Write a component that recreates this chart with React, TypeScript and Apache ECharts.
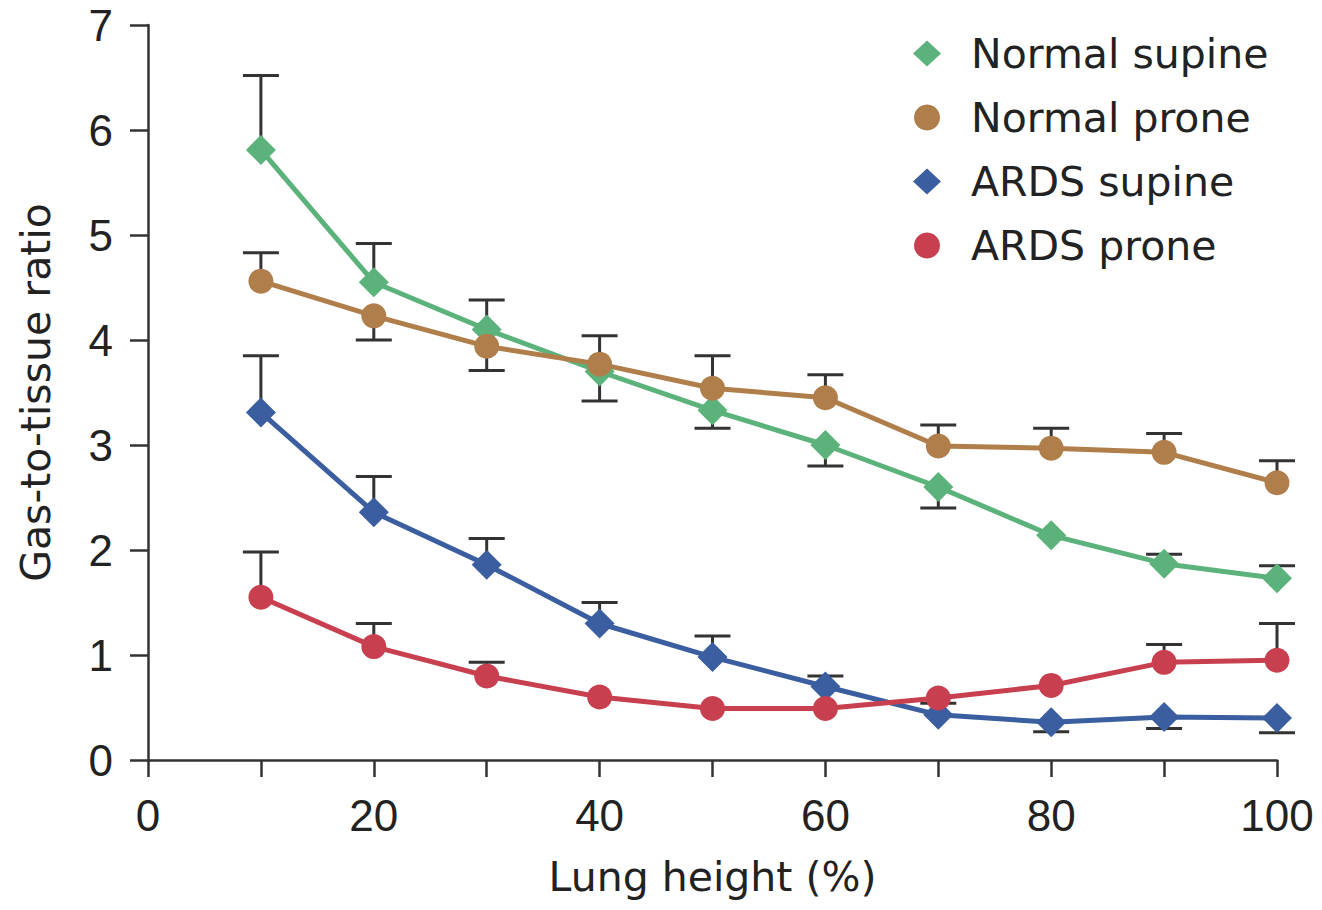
import React, { useEffect, useRef } from "react";
import * as echarts from "echarts";

const lungHeight = [10, 20, 30, 40, 50, 60, 70, 80, 90, 100];
const normalSupine = [5.81, 4.55, 4.1, 3.7, 3.33, 3.0, 2.6, 2.14, 1.87, 1.73];
const normalSupineErr = [6.52, 4.92, 4.38, 3.42, 3.16, 2.8, 2.4, null, 1.96, 1.85];
const normalProne = [4.56, 4.23, 3.94, 3.77, 3.54, 3.45, 2.99, 2.97, 2.93, 2.64];
const normalProneErr = [4.83, 4.0, 3.71, 4.04, 3.85, 3.67, 3.19, 3.16, 3.11, 2.85];
const ardsSupine = [3.31, 2.36, 1.86, 1.3, 0.98, 0.7, 0.43, 0.36, 0.41, 0.4];
const ardsSupineErr = [3.85, 2.7, 2.11, 1.5, 1.18, 0.8, 0.54, 0.27, 0.3, 0.26];
const ardsProne = [1.55, 1.08, 0.8, 0.6, 0.49, 0.49, 0.59, 0.71, 0.93, 0.95];
const ardsProneErr = [1.98, 1.3, 0.93, null, null, null, null, null, 1.1, 1.3];

const seriesNames = ["Normal supine", "Normal prone", "ARDS supine", "ARDS prone"];
const colors = ["#5bb27b", "#b07e4a", "#3a5e9f", "#c8404f"];
const symbols = ["diamond", "circle", "diamond", "circle"];
const values = [normalSupine, normalProne, ardsSupine, ardsProne];
const errs = [normalSupineErr, normalProneErr, ardsSupineErr, ardsProneErr];

const TICK_FONT = "Liberation Sans, Arial, Helvetica, sans-serif";
const TEXT_FONT = "DejaVu Sans, Liberation Sans, sans-serif";
const AXIS = "#333";

export default function App() {
  const ref = useRef<HTMLDivElement>(null);
  useEffect(() => {
    const chart = echarts.init(ref.current!, null, { renderer: "svg" });
    const errData: any[] = [];
    values.forEach((vals, s) => {
      vals.forEach((v, i) => {
        const e = errs[s][i];
        if (e !== null && e !== undefined) errData.push([lungHeight[i], v, e]);
      });
    });
    const lineSeries = values.map((vals, s) => ({
      name: seriesNames[s],
      type: "line",
      data: vals.map((v, i) => [lungHeight[i], v]),
      symbol: symbols[s],
      symbolSize: symbols[s] === "diamond" ? 30 : 25,
      itemStyle: { color: colors[s] },
      lineStyle: { color: colors[s], width: 5 },
      z: 3,
    }));
    chart.setOption({
      animation: false,
      backgroundColor: "#fff",
      grid: { left: 148, right: 45, top: 25, bottom: 150, containLabel: false },
      legend: {
        data: seriesNames.map((n, s) => ({ name: n, icon: symbols[s] })),
        orient: "vertical",
        left: 908,
        top: 28,
        itemWidth: 28,
        itemHeight: 26,
        itemGap: 23,
        textStyle: { fontFamily: TEXT_FONT, fontSize: 41, color: "#222", lineHeight: 40, padding: [0, 0, 0, 25] },
      },
      xAxis: {
        type: "value",
        min: 0,
        max: 100,
        interval: 10,
        name: "Lung height (%)",
        nameLocation: "middle",
        nameGap: 96,
        nameTextStyle: { fontFamily: TEXT_FONT, fontSize: 41, color: "#222" },
        axisLine: { lineStyle: { color: AXIS, width: 2.5 } },
        axisTick: { length: 17, lineStyle: { color: AXIS, width: 2.5 } },
        axisLabel: {
          fontFamily: TICK_FONT,
          fontSize: 44,
          color: "#222",
          margin: 33,
          formatter: (v: number) => (v % 20 === 0 ? String(v) : ""),
        },
        splitLine: { show: false },
      },
      yAxis: {
        type: "value",
        min: 0,
        max: 7,
        interval: 1,
        name: "Gas-to-tissue ratio",
        nameLocation: "middle",
        nameGap: 92,
        nameTextStyle: { fontFamily: TEXT_FONT, fontSize: 41, color: "#222" },
        axisLine: { lineStyle: { color: AXIS, width: 2.5 } },
        axisTick: { length: 18, lineStyle: { color: AXIS, width: 2.5 } },
        axisLabel: { fontFamily: TICK_FONT, fontSize: 44, color: "#222", margin: 35 },
        splitLine: { show: false },
      },
      series: [
        {
          type: "custom",
          name: "errors",
          data: errData,
          encode: { x: 0, y: [1, 2] },
          z: 1,
          renderItem: (params: any, api: any) => {
            const p0 = api.coord([api.value(0), api.value(1)]);
            const p1 = api.coord([api.value(0), api.value(2)]);
            const half = 18;
            const style = { stroke: "#333", lineWidth: 3 };
            return {
              type: "group",
              children: [
                { type: "line", shape: { x1: p0[0], y1: p0[1], x2: p1[0], y2: p1[1] }, style },
                { type: "line", shape: { x1: p1[0] - half, y1: p1[1], x2: p1[0] + half, y2: p1[1] }, style },
              ],
            };
          },
        },
        ...lineSeries,
      ],
    });
    return () => chart.dispose();
  }, []);
  return <div ref={ref} style={{ width: 1322, height: 910, margin: -8 }} />;
}
